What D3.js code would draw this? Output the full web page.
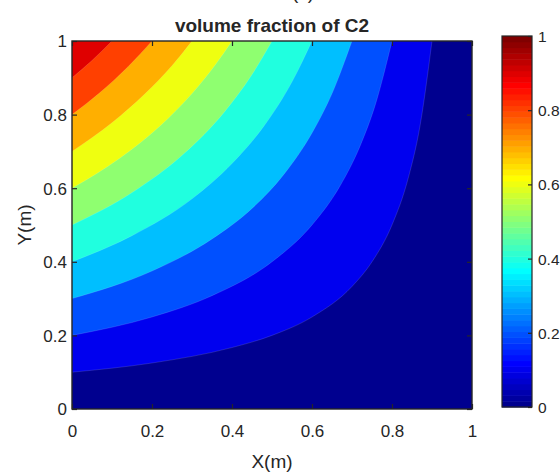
<!DOCTYPE html>
<html>
<head>
<meta charset="utf-8">
<script src="https://cdn.jsdelivr.net/npm/d3@7"></script>
<style>
  html, body { margin: 0; padding: 0; background: #fff; }
  svg text { font-family: "Liberation Sans", Arial, sans-serif; fill: #262626; }
</style>
</head>
<body>
<div id="chart"></div>
<script>
// Contour levels of the filled plot (volume fraction of C2)
const levels = [0, 0.1, 0.2, 0.3, 0.4, 0.5, 0.6, 0.7, 0.8, 0.9];

// Iso-lines of each level, as [x, y] points in metres, running from the left edge to the top edge
const contour01 = [[0, 0.1], [0.2, 0.125], [0.4, 0.167], [0.5, 0.2], [0.6, 0.25], [0.7, 0.333], [0.75, 0.4], [0.8, 0.5], [0.84, 0.625], [0.87, 0.769], [0.9, 1.0]];
const contour02 = [[0, 0.2], [0.2, 0.25], [0.35, 0.308], [0.5, 0.4], [0.6, 0.5], [0.67, 0.606], [0.72, 0.714], [0.76, 0.833], [0.8, 1.0]];
const contour03 = [[0, 0.3], [0.2, 0.375], [0.35, 0.462], [0.45, 0.545], [0.53, 0.638], [0.6, 0.75], [0.65, 0.857], [0.7, 1.0]];
const contour04 = [[0, 0.4], [0.15, 0.471], [0.3, 0.571], [0.4, 0.667], [0.48, 0.769], [0.55, 0.889], [0.6, 1.0]];
const contour05 = [[0, 0.5], [0.15, 0.588], [0.28, 0.694], [0.38, 0.806], [0.45, 0.909], [0.5, 1.0]];
const contour06 = [[0, 0.6], [0.12, 0.682], [0.22, 0.769], [0.3, 0.857], [0.36, 0.938], [0.4, 1.0]];
const contour07 = [[0, 0.7], [0.1, 0.778], [0.18, 0.854], [0.25, 0.933], [0.3, 1.0]];
const contour08 = [[0, 0.8], [0.07, 0.86], [0.14, 0.93], [0.2, 1.0]];
const contour09 = [[0, 0.9], [0.05, 0.947], [0.1, 1.0]];
const contours = [null, contour01, contour02, contour03, contour04, contour05, contour06, contour07, contour08, contour09];

// Axis ticks
const xTicks = [0, 0.2, 0.4, 0.6, 0.8, 1];
const yTicks = [0, 0.2, 0.4, 0.6, 0.8, 1];
const cbTicks = [0, 0.2, 0.4, 0.6, 0.8, 1];

const titleText = "volume fraction of C2";
const panelText = "(c)";
const xLabel = "X(m)";
const yLabel = "Y(m)";

// 64-entry jet colormap
function jet64() {
  const out = [];
  for (let i = 1; i <= 64; i++) {
    let r, g, b;
    if (i <= 8) { r = 0; g = 0; b = 0.5 + 0.0625 * i; }
    else if (i <= 24) { r = 0; g = 0.0625 * (i - 8); b = 1; }
    else if (i <= 40) { r = 0.0625 * (i - 24); g = 1; b = 1 - 0.0625 * (i - 24); }
    else if (i <= 56) { r = 1; g = 1 - 0.0625 * (i - 40); b = 0; }
    else { r = 1 - 0.0625 * (i - 56); g = 0; b = 0; }
    out.push(d3.rgb(r * 255, g * 255, b * 255).formatHex());
  }
  return out;
}
const jet = jet64();
const color = d3.scaleQuantize().domain([0, 1]).range(jet);

const W = 560, H = 473;
const svg = d3.select("#chart").append("svg").attr("width", W).attr("height", H);

const x = d3.scaleLinear().domain([0, 1]).range([72, 472]);
const y = d3.scaleLinear().domain([0, 1]).range([409, 41]);

// Filled bands: base level, then each region above its iso-line painted on top
const plot = svg.append("g");
plot.append("rect")
  .attr("x", x(0)).attr("y", y(1))
  .attr("width", x(1) - x(0)).attr("height", y(0) - y(1))
  .attr("fill", color(levels[0]));

const band = d3.area()
  .x(d => x(d[0]))
  .y0(y(1))
  .y1(d => y(d[1]))
  .curve(d3.curveMonotoneX);

const isoLine = d3.line()
  .x(d => x(d[0]))
  .y(d => y(d[1]))
  .curve(d3.curveMonotoneX);

levels.forEach((lv, i) => {
  if (i === 0) return;
  plot.append("path")
    .attr("d", band(contours[i]))
    .attr("fill", color(lv));
});

// Faint seams along the iso-lines between neighbouring bands
levels.forEach((lv, i) => {
  if (i === 0) return;
  plot.append("path")
    .attr("d", isoLine(contours[i]))
    .attr("fill", "none")
    .attr("stroke", "#ffffff")
    .attr("stroke-opacity", 0.22)
    .attr("stroke-width", 0.6);
});

// Axes with inward ticks on all four sides
const axisColor = "#262626";
const fmt = d3.format("");
const gx = svg.append("g").attr("transform", `translate(0,${y(0)})`)
  .call(d3.axisBottom(x).tickValues(xTicks).tickSizeInner(-5).tickSizeOuter(0).tickPadding(16).tickFormat(fmt));
const gy = svg.append("g").attr("transform", `translate(${x(0)},0)`)
  .call(d3.axisLeft(y).tickValues(yTicks).tickSizeInner(-5).tickSizeOuter(0).tickPadding(5).tickFormat(fmt));
const gt = svg.append("g").attr("transform", `translate(0,${y(1)})`)
  .call(d3.axisTop(x).tickValues(xTicks).tickSizeInner(-5).tickSizeOuter(0).tickFormat(""));
const gr = svg.append("g").attr("transform", `translate(${x(1)},0)`)
  .call(d3.axisRight(y).tickValues(yTicks).tickSizeInner(-5).tickSizeOuter(0).tickFormat(""));

[gx, gy, gt, gr].forEach(g => {
  g.select(".domain").remove();
  g.selectAll(".tick line").attr("stroke", axisColor).attr("stroke-width", 1.2);
  g.selectAll(".tick text").attr("fill", axisColor).style("font-size", "17px");
});
gx.selectAll(".tick text").attr("dy", "0.71em");
gy.selectAll(".tick text").attr("dy", "0.35em");

svg.append("rect")
  .attr("x", x(0)).attr("y", y(1))
  .attr("width", x(1) - x(0)).attr("height", y(0) - y(1))
  .attr("fill", "none").attr("stroke", axisColor).attr("stroke-width", 1.4);

// Colorbar
const cbX = 502, cbW = 30;
const cy = d3.scaleLinear().domain([0, 1]).range([407, 36]);
const cb = svg.append("g");
cb.selectAll("rect.cell")
  .data(jet)
  .join("rect")
  .attr("class", "cell")
  .attr("x", cbX)
  .attr("y", (c, i) => cy((i + 1) / 64))
  .attr("width", cbW)
  .attr("height", (c, i) => cy(i / 64) - cy((i + 1) / 64) + 0.5)
  .attr("fill", c => c);
cb.append("rect")
  .attr("x", cbX).attr("y", cy(1))
  .attr("width", cbW).attr("height", cy(0) - cy(1))
  .attr("fill", "none").attr("stroke", axisColor).attr("stroke-width", 1.2);
const gcb = svg.append("g").attr("transform", `translate(${cbX + cbW},0)`)
  .call(d3.axisRight(cy).tickValues(cbTicks).tickSizeInner(-4).tickSizeOuter(0).tickPadding(6).tickFormat(fmt));
gcb.select(".domain").remove();
gcb.selectAll(".tick line").attr("stroke", axisColor).attr("stroke-width", 1.2);
gcb.selectAll(".tick text").attr("fill", axisColor).style("font-size", "15.5px").attr("dy", "0.35em");

// Titles and axis labels
svg.append("text")
  .attr("x", 303).attr("y", -1)
  .attr("text-anchor", "middle")
  .style("font-size", "19px")
  .text(panelText);
svg.append("text")
  .attr("x", (x(0) + x(1)) / 2).attr("y", 32)
  .attr("text-anchor", "middle")
  .style("font-size", "19px").style("font-weight", "bold")
  .attr("fill", "#000")
  .text(titleText);
svg.append("text")
  .attr("x", (x(0) + x(1)) / 2).attr("y", 468)
  .attr("text-anchor", "middle")
  .style("font-size", "19px")
  .text(xLabel);
svg.append("text")
  .attr("transform", `translate(31,${(y(0) + y(1)) / 2}) rotate(-90)`)
  .attr("text-anchor", "middle")
  .style("font-size", "19px")
  .text(yLabel);
</script>
</body>
</html>
